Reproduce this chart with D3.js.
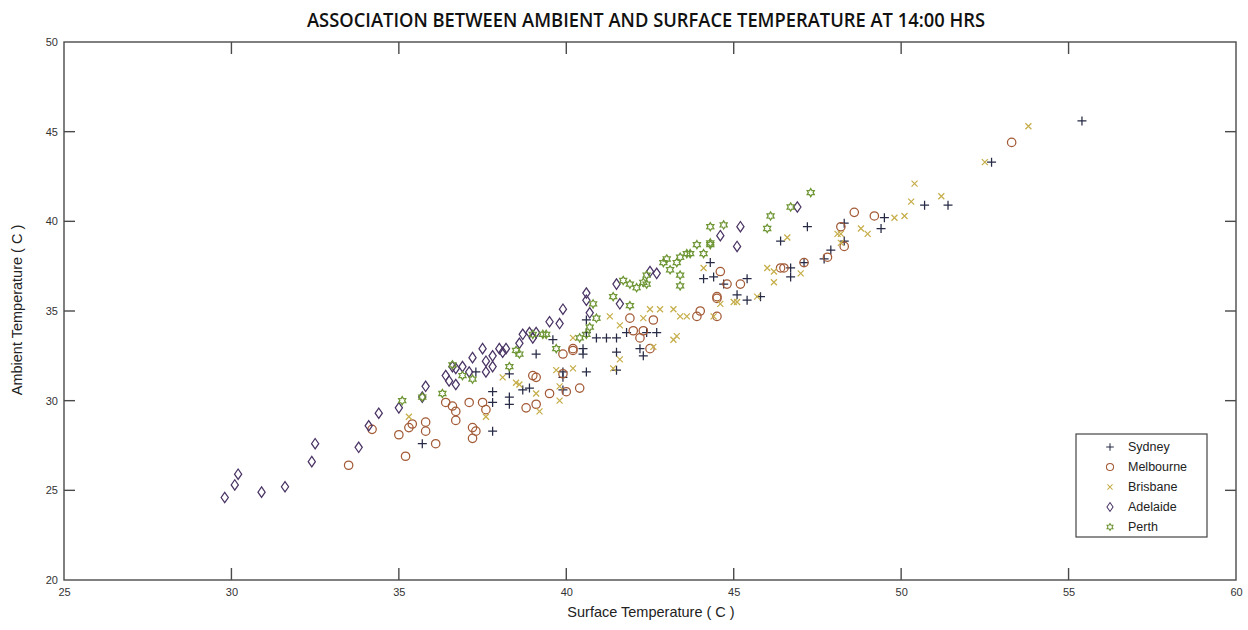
<!DOCTYPE html>
<html>
<head>
<meta charset="utf-8">
<script src="https://cdn.jsdelivr.net/npm/d3@7/dist/d3.min.js"></script>
<style>
  html, body { margin: 0; padding: 0; background: #fff; }
  svg { display: block; }
</style>
</head>
<body>
<svg id="chart" width="1248" height="630"></svg>
<script>
// Surface vs ambient temperature readings at 14:00, one [surface, ambient] pair per reading
const sydney = [[35.7,27.6],[37.3,31.6],[37.8,30.5],[37.8,29.9],[37.8,28.3],[38.3,31.5],[38.3,30.2],[38.3,29.8],[38.7,30.6],[38.9,30.7],[39.1,32.6],[39.6,33.4],[39.9,31.6],[39.9,31.3],[39.9,30.6],[40.5,32.9],[40.5,32.6],[40.6,31.6],[40.6,33.8],[40.6,34.5],[40.9,33.5],[41.2,33.5],[41.5,33.5],[41.8,33.8],[41.5,32.7],[41.5,31.7],[42.2,32.9],[42.3,32.5],[42.4,33.8],[42.7,33.8],[44.3,37.7],[44.1,36.8],[44.4,36.9],[44.7,36.5],[45.4,36.8],[45.1,35.9],[45.4,35.6],[45.8,35.8],[46.4,38.9],[47.2,39.7],[46.7,37.4],[46.7,36.9],[47.1,37.7],[47.7,37.9],[47.9,38.4],[48.3,38.9],[48.3,39.9],[49.5,40.2],[49.4,39.6],[50.7,40.9],[51.4,40.9],[52.7,43.3],[55.4,45.6]];
const melbourne = [[33.5,26.4],[35.2,26.9],[35.0,28.1],[35.3,28.5],[35.4,28.7],[34.2,28.4],[35.8,28.8],[35.8,28.3],[36.1,27.6],[36.4,29.9],[36.6,29.7],[36.7,29.4],[36.7,28.9],[37.1,29.9],[37.2,28.5],[37.2,27.9],[37.3,28.3],[37.5,29.9],[37.6,29.5],[38.8,29.6],[39.1,29.8],[39.0,31.4],[39.1,31.3],[39.5,30.4],[40.0,30.5],[40.4,30.7],[39.9,31.5],[40.2,32.9],[40.2,32.8],[39.9,32.6],[41.9,34.6],[42.0,33.9],[42.2,33.5],[42.3,33.9],[42.6,34.5],[42.5,32.9],[44.0,35.0],[43.9,34.7],[44.5,34.7],[44.5,35.8],[44.5,35.7],[44.6,37.2],[44.8,36.5],[45.2,36.5],[46.4,37.4],[46.5,37.4],[47.1,37.7],[47.8,38.0],[48.3,38.6],[48.2,39.7],[48.6,40.5],[49.2,40.3],[53.3,44.4]];
const brisbane = [[35.3,29.1],[37.6,29.1],[38.1,31.3],[38.5,31.0],[38.6,30.9],[39.1,30.4],[39.2,29.4],[39.7,31.7],[39.8,30.8],[39.8,30.0],[40.2,31.8],[40.2,33.5],[41.3,34.7],[41.6,32.3],[41.6,34.2],[41.4,31.8],[42.3,34.6],[42.5,35.1],[42.8,35.1],[43.2,33.4],[43.3,33.6],[42.6,33.0],[43.2,35.1],[43.4,34.7],[43.6,34.7],[44.4,34.7],[44.1,37.4],[44.6,35.4],[45.0,35.5],[45.1,35.5],[45.7,35.8],[46.0,37.4],[46.2,37.2],[46.2,36.6],[46.6,39.1],[47.0,37.1],[48.1,39.3],[48.2,39.3],[48.2,38.8],[48.8,39.6],[49.0,39.3],[49.8,40.2],[50.1,40.3],[50.3,41.1],[50.4,42.1],[51.2,41.4],[52.5,43.3],[53.8,45.3]];
const adelaide = [[29.8,24.6],[30.1,25.3],[30.2,25.9],[30.9,24.9],[31.6,25.2],[32.4,26.6],[32.5,27.6],[33.8,27.4],[34.1,28.6],[34.4,29.3],[35.0,29.6],[35.7,30.2],[35.8,30.8],[36.4,31.4],[36.5,31.1],[36.7,30.9],[36.6,31.9],[36.7,31.8],[36.9,31.9],[37.1,31.6],[37.2,32.4],[37.5,32.9],[37.6,32.2],[37.6,31.6],[37.8,32.5],[37.8,31.9],[38.0,32.9],[38.1,32.7],[38.2,32.9],[38.6,33.2],[38.7,33.7],[38.9,33.8],[39.0,33.5],[39.1,33.8],[39.5,34.4],[39.8,34.3],[39.9,35.1],[40.6,36.0],[40.6,35.6],[40.7,34.9],[41.5,36.5],[41.6,35.4],[42.5,37.2],[42.7,37.1],[44.6,39.2],[45.1,38.6],[45.2,39.7],[46.9,40.8]];
const perth = [[35.1,30.0],[35.7,30.2],[36.3,30.4],[36.6,32.0],[36.9,31.4],[37.2,31.2],[38.3,31.9],[38.5,32.8],[38.6,32.6],[39.0,33.7],[39.3,33.7],[39.4,33.7],[39.7,32.9],[40.4,33.5],[40.6,33.7],[40.7,34.1],[40.9,34.6],[40.8,35.4],[41.4,35.8],[41.9,35.3],[41.7,36.7],[41.9,36.5],[42.1,36.3],[42.3,36.6],[42.4,37.0],[42.4,36.5],[42.9,37.7],[43.0,37.9],[43.1,37.3],[43.3,37.7],[43.4,38.0],[43.4,37.0],[43.4,36.4],[43.6,38.2],[43.7,38.2],[44.1,38.2],[43.9,38.7],[44.3,38.8],[44.3,38.7],[44.3,39.7],[44.7,39.8],[46.0,39.6],[46.1,40.3],[46.7,40.8],[47.3,41.6]];

const cityNames = ["Sydney", "Melbourne", "Brisbane", "Adelaide", "Perth"];
const xTicks = [25, 30, 35, 40, 45, 50, 55, 60];
const yTicks = [20, 25, 30, 35, 40, 45, 50];

// Marker outlines, centred on the origin
function hexagramPath(rOut, rIn) {
  const pts = d3.range(12).map(i => {
    const a = -Math.PI / 2 + i * Math.PI / 6;
    const r = i % 2 === 0 ? rOut : rIn;
    return [r * Math.cos(a), r * Math.sin(a)];
  });
  return "M" + pts.map(p => p[0].toFixed(2) + "," + p[1].toFixed(2)).join("L") + "Z";
}
const markers = {
  plus: "M-4.5,0H4.5M0,-4.5V4.5",
  circle: "M4.2,0A4.2,4.2 0 1,1 -4.2,0A4.2,4.2 0 1,1 4.2,0Z",
  cross: "M-3,-3L3,3M-3,3L3,-3",
  diamond: "M0,-5.2L3.6,0L0,5.2L-3.6,0Z",
  hexagram: hexagramPath(4.1, 2.4)
};

const series = [
  { name: cityNames[0], data: sydney,    marker: "plus",     color: "#262a44" },
  { name: cityNames[1], data: melbourne, marker: "circle",   color: "#a35a36" },
  { name: cityNames[2], data: brisbane,  marker: "cross",    color: "#c6ae4a" },
  { name: cityNames[3], data: adelaide,  marker: "diamond",  color: "#4a3464" },
  { name: cityNames[4], data: perth,     marker: "hexagram", color: "#6e9634" }
];

const svg = d3.select("#chart");
const plotLeft = 64, plotRight = 1236, plotTop = 42, plotBottom = 580;

const x = d3.scaleLinear().domain([25, 60]).range([plotLeft, plotRight]);
const y = d3.scaleLinear().domain([20, 50]).range([plotBottom, plotTop]);

const axisColor = "#4a4a4a";
const font = "'Liberation Sans', Arial, sans-serif";

// Labelled axes along the bottom and left edges
const gx = svg.append("g").attr("transform", `translate(0,${plotBottom})`)
  .call(d3.axisBottom(x).tickValues(xTicks).tickSize(0).tickPadding(8).tickFormat(d3.format("d")));
const gy = svg.append("g").attr("transform", `translate(${plotLeft},0)`)
  .call(d3.axisLeft(y).tickValues(yTicks).tickSize(0).tickPadding(6).tickFormat(d3.format("d")));
[gx, gy].forEach(g => {
  g.select(".domain").remove();
  g.selectAll(".tick text").attr("fill", "#333").style("font-family", font).style("font-size", "11px");
});
gy.selectAll(".tick text").attr("dy", "0.32em");

// Frame around the plot area
svg.append("rect")
  .attr("x", plotLeft).attr("y", plotTop)
  .attr("width", plotRight - plotLeft).attr("height", plotBottom - plotTop)
  .attr("fill", "none").attr("stroke", axisColor).attr("stroke-width", 1.4);

// Inward tick marks on all four sides (interior values only)
const innerX = xTicks.slice(1, -1), innerY = yTicks.slice(1, -1);
const ticks = svg.append("g").attr("stroke", axisColor).attr("stroke-width", 1.4);
ticks.selectAll(".tb").data(innerX).join("line")
  .attr("x1", d => x(d)).attr("x2", d => x(d)).attr("y1", plotBottom).attr("y2", plotBottom - 12);
ticks.selectAll(".tt").data(innerX).join("line")
  .attr("x1", d => x(d)).attr("x2", d => x(d)).attr("y1", plotTop).attr("y2", plotTop + 12);
ticks.selectAll(".tl").data(innerY).join("line")
  .attr("y1", d => y(d)).attr("y2", d => y(d)).attr("x1", plotLeft).attr("x2", plotLeft + 11);
ticks.selectAll(".tr").data(innerY).join("line")
  .attr("y1", d => y(d)).attr("y2", d => y(d)).attr("x1", plotRight).attr("x2", plotRight - 11);

// Data points
const plot = svg.append("g");
series.forEach(s => {
  plot.append("g").selectAll("path").data(s.data).join("path")
    .attr("transform", d => `translate(${x(d[0])},${y(d[1])})`)
    .attr("d", markers[s.marker])
    .attr("fill", "none")
    .attr("stroke", s.color)
    .attr("stroke-width", 1.25);
});

// Title and axis labels
svg.append("text")
  .attr("x", 646).attr("y", 27)
  .attr("text-anchor", "middle")
  .attr("textLength", 678).attr("lengthAdjust", "spacingAndGlyphs")
  .style("font-family", "'Open Sans', 'Noto Sans', sans-serif")
  .style("font-size", "19px")
  .style("font-weight", "600")
  .attr("fill", "#111")
  .text("ASSOCIATION BETWEEN AMBIENT AND SURFACE TEMPERATURE AT 14:00 HRS");

svg.append("text")
  .attr("x", 651).attr("y", 617)
  .attr("text-anchor", "middle")
  .style("font-family", font).style("font-size", "14.5px")
  .attr("fill", "#222")
  .text("Surface Temperature ( C )");

svg.append("text")
  .attr("transform", "translate(22,310) rotate(-90)")
  .attr("text-anchor", "middle")
  .style("font-family", font).style("font-size", "14.5px")
  .attr("fill", "#222")
  .text("Ambient Temperature ( C )");

// Legend
const legend = svg.append("g");
legend.append("rect")
  .attr("x", 1076).attr("y", 434).attr("width", 131).attr("height", 103)
  .attr("fill", "#fff").attr("stroke", "#444").attr("stroke-width", 1.2);
series.forEach((s, i) => {
  const ly = 447 + i * 20;
  legend.append("path")
    .attr("transform", `translate(1110,${ly}) scale(0.85)`)
    .attr("d", markers[s.marker])
    .attr("fill", "none").attr("stroke", s.color).attr("stroke-width", 1.2);
  legend.append("text")
    .attr("x", 1128).attr("y", ly).attr("dy", "0.35em")
    .style("font-family", font).style("font-size", "12.5px")
    .attr("fill", "#222")
    .text(s.name);
});
</script>
</body>
</html>
